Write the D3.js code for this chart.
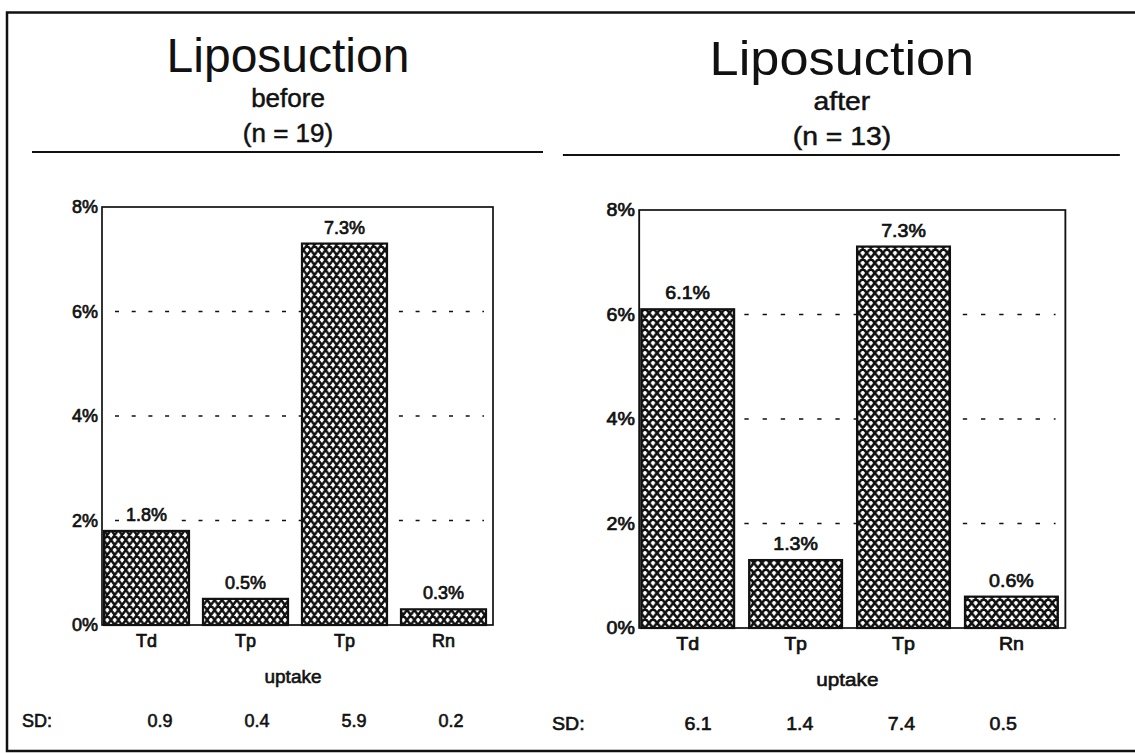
<!DOCTYPE html>
<html>
<head>
<meta charset="utf-8">
<script src="https://cdn.jsdelivr.net/npm/d3@7"></script>
<style>
  body { margin: 0; background: #fff; }
  svg { display: block; font-family: 'Liberation Sans', Arial, Helvetica, sans-serif; }
</style>
</head>
<body>
<svg id="chart" width="1135" height="753"></svg>
<script>
// data
const categories = ['Td', 'Tp', 'Tp', 'Rn'];
const beforeValues = [1.8, 0.5, 7.3, 0.3];
const afterValues = [6.1, 1.3, 7.3, 0.6];
const beforeSD = [0.9, 0.4, 5.9, 0.2];
const afterSD = [6.1, 1.4, 7.4, 0.5];
const yTicks = [0, 2, 4, 6, 8];
const gridTicks = [2, 4, 6];

const panels = [
  { subtitle: 'before', n: 19, values: beforeValues, sd: beforeSD },
  { subtitle: 'after', n: 13, values: afterValues, sd: afterSD },
];

// the scanned right half is a bit wider than the left one
const layouts = [
  { transform: 'translate(0,0)', sdRange: [160, 451] },
  { transform: 'translate(528,3) scale(1.09,1)', sdRange: [156, 436] },
];

const INK = '#111';
const SMALL = 18;
const svg = d3.select('#chart');

// diamond cross-hatch
const PW = 7.4, PH = 10;
const hatch = svg.append('defs').append('pattern')
  .attr('id', 'hatch')
  .attr('patternUnits', 'userSpaceOnUse')
  .attr('width', PW)
  .attr('height', PH);
hatch.append('rect').attr('width', PW).attr('height', PH).attr('fill', '#fff');
hatch.append('path')
  .attr('d', `M${-PW},${-PH}L${2 * PW},${2 * PH}M0,${-PH}L${2 * PW},${PH}M${-PW},0L${PW},${2 * PH}` +
    `M${2 * PW},${-PH}L${-PW},${2 * PH}M${PW},${-PH}L${-PW},${PH}M${2 * PW},0L0,${2 * PH}`)
  .attr('stroke', INK)
  .attr('stroke-width', 2.5)
  .attr('fill', 'none');

svg.append('rect').attr('width', 1135).attr('height', 753).attr('fill', '#fff');

// slide frame (top, left, bottom)
svg.append('path')
  .attr('d', 'M1135,12.5L7,12.5L7,751L1135,751')
  .attr('fill', 'none')
  .attr('stroke', INK)
  .attr('stroke-width', 2.5);

const PLOT_L = 102, PLOT_R = 493, PLOT_T = 207, PLOT_B = 625;

const x = d3.scaleBand()
  .domain(d3.range(categories.length))
  .range([104, 486])
  .paddingInner(14 / 99)
  .paddingOuter(0);

const y = d3.scaleLinear()
  .domain([0, 8])
  .range([PLOT_B, PLOT_T]);

function heavy(sel, w) {
  return sel.attr('fill', INK).attr('stroke', INK).attr('stroke-width', w);
}

panels.forEach((panel, pi) => {
  const g = svg.append('g').attr('transform', layouts[pi].transform);

  // headings
  g.append('text')
    .attr('x', 288).attr('y', 72)
    .attr('text-anchor', 'middle')
    .attr('font-size', 48)
    .attr('fill', INK)
    .text('Liposuction');
  heavy(g.append('text'), 0.5)
    .attr('x', 288).attr('y', 107)
    .attr('text-anchor', 'middle')
    .attr('font-size', 26)
    .text(panel.subtitle);
  heavy(g.append('text'), 0.5)
    .attr('x', 288).attr('y', 142)
    .attr('text-anchor', 'middle')
    .attr('font-size', 26)
    .text(`(n = ${panel.n})`);
  g.append('line')
    .attr('x1', 32).attr('x2', 543)
    .attr('y1', 152).attr('y2', 152)
    .attr('stroke', INK)
    .attr('stroke-width', 1.8);

  // dotted grid
  g.selectAll('.grid')
    .data(gridTicks)
    .enter()
    .append('line')
    .attr('class', 'grid')
    .attr('x1', PLOT_L + 13)
    .attr('x2', PLOT_R - 9)
    .attr('y1', d => y(d))
    .attr('y2', d => y(d))
    .attr('stroke', INK)
    .attr('stroke-width', 1.6)
    .attr('stroke-dasharray', '4 12.7');

  // bars
  g.selectAll('.bar')
    .data(panel.values)
    .enter()
    .append('rect')
    .attr('class', 'bar')
    .attr('x', (d, i) => x(i))
    .attr('y', d => y(d))
    .attr('width', x.bandwidth())
    .attr('height', d => y(0) - y(d))
    .attr('fill', 'url(#hatch)')
    .attr('stroke', INK)
    .attr('stroke-width', 2.2);

  // plot frame
  g.append('rect')
    .attr('x', PLOT_L).attr('y', PLOT_T)
    .attr('width', PLOT_R - PLOT_L)
    .attr('height', PLOT_B - PLOT_T)
    .attr('fill', 'none')
    .attr('stroke', INK)
    .attr('stroke-width', 1.7);

  // value labels with a white patch behind them
  const labels = g.selectAll('.val')
    .data(panel.values)
    .enter()
    .append('g')
    .attr('class', 'val');
  heavy(labels.append('text'), 0.7)
    .attr('x', (d, i) => x(i) + x.bandwidth() / 2)
    .attr('y', d => y(d) - 10)
    .attr('text-anchor', 'middle')
    .attr('font-size', SMALL)
    .text(d => d.toFixed(1) + '%');
  labels.each(function () {
    const box = d3.select(this).select('text').node().getBBox();
    d3.select(this).insert('rect', 'text')
      .attr('x', box.x - 2).attr('y', box.y)
      .attr('width', box.width + 4).attr('height', box.height)
      .attr('fill', '#fff');
  });

  // axes
  const yAxis = g.append('g')
    .attr('transform', `translate(${PLOT_L},0)`)
    .call(d3.axisLeft(y).tickValues(yTicks).tickFormat(d => d + '%').tickSize(0).tickPadding(4));
  const xAxis = g.append('g')
    .attr('transform', `translate(0,${PLOT_B})`)
    .call(d3.axisBottom(x).tickFormat(i => categories[i]).tickSize(0).tickPadding(9));
  [yAxis, xAxis].forEach(ax => {
    ax.select('.domain').remove();
    ax.attr('font-family', null).attr('font-size', SMALL);
    heavy(ax.selectAll('text'), 0.7);
  });

  heavy(g.append('text'), 0.6)
    .attr('x', 293).attr('y', 683)
    .attr('text-anchor', 'middle')
    .attr('font-size', 19)
    .text('uptake');

  // SD row
  const sdX = d3.scalePoint()
    .domain(d3.range(panel.sd.length))
    .range(layouts[pi].sdRange);
  heavy(g.append('text'), 0.6)
    .attr('x', 22).attr('y', 727)
    .attr('font-size', SMALL)
    .text('SD:');
  heavy(g.selectAll('.sd')
    .data(panel.sd)
    .enter()
    .append('text'), 0.6)
    .attr('class', 'sd')
    .attr('x', (d, i) => sdX(i))
    .attr('y', 727)
    .attr('text-anchor', 'middle')
    .attr('font-size', SMALL)
    .text(d => d.toFixed(1));
});
</script>
</body>
</html>
